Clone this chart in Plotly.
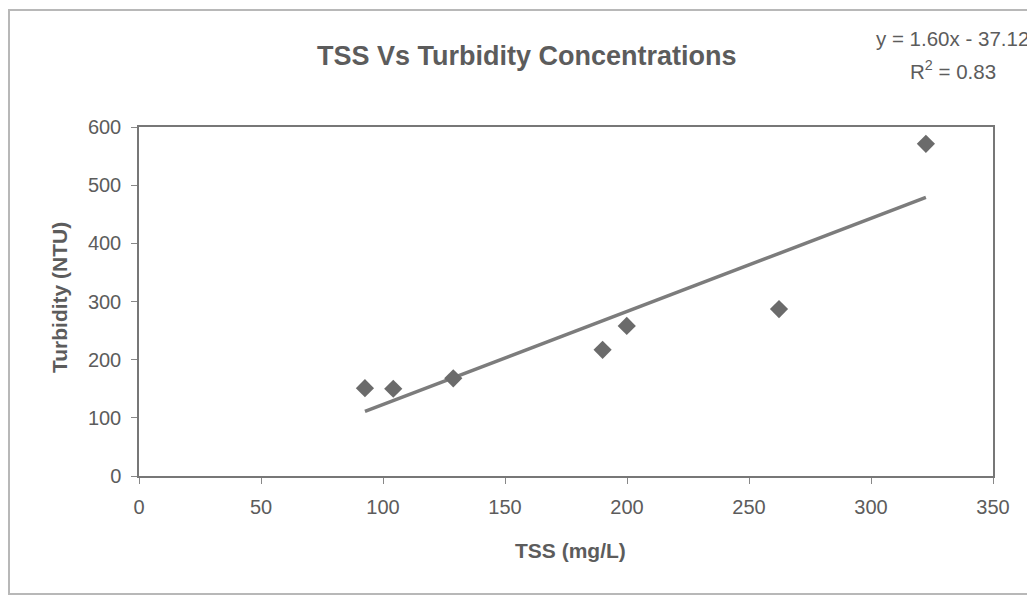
import plotly.graph_objects as go

tss = [92.6, 104.2, 128.8, 190.0, 199.9, 262.3, 322.5]
turbidity = [151, 150, 168, 217, 258, 287, 571]
slope = 1.60
intercept = -37.12
r2 = 0.83

x_ticks = [0, 50, 100, 150, 200, 250, 300, 350]
y_ticks = [0, 100, 200, 300, 400, 500, 600]

FONT = "Liberation Sans, Arial, sans-serif"
TXT = "#5c5c5c"

trend_x = [min(tss), max(tss)]
trend_y = [slope * v + intercept for v in trend_x]

fig = go.Figure()
fig.add_trace(go.Scatter(x=trend_x, y=trend_y, mode="lines",
                         line=dict(color="#7c7c7c", width=3.5), hoverinfo="skip"))
fig.add_trace(go.Scatter(x=tss, y=turbidity, mode="markers",
                         marker=dict(symbol="diamond", size=14, color="#6b6b6b",
                                     line=dict(width=0))))

# page body has an 8px margin: figure coordinates = screen - 8
OFF = 8
W, H = 1035, 597
L, T = 139 - OFF, 127 - OFF
R = W - (993 - OFF)
B = H - (476 - OFF)
pw, ph = W - L - R, H - T - B

def px(x):
    return (x - OFF - L) / pw

def py(y):
    return (H - B - (y - OFF)) / ph

fig.update_layout(
    width=W, height=H,
    margin=dict(l=L, r=R, t=T, b=B),
    paper_bgcolor="white", plot_bgcolor="white",
    showlegend=False,
    font=dict(family=FONT, color=TXT, size=20),
    xaxis=dict(range=[0, 350], tickvals=x_ticks, ticktext=[str(v) for v in x_ticks],
               showgrid=False, zeroline=False, showline=True, linecolor="#777777",
               linewidth=1.5, mirror=True, ticks="outside", ticklen=6,
               tickcolor="#888888", ticklabelstandoff=6),
    yaxis=dict(range=[0, 600], tickvals=y_ticks, ticktext=[str(v) for v in y_ticks],
               showgrid=False, zeroline=False, showline=True, linecolor="#777777",
               linewidth=1.5, mirror=True, ticks="outside", ticklen=6,
               tickcolor="#888888", ticklabelstandoff=6),
    shapes=[dict(type="rect", xref="paper", yref="paper",
                 x0=px(9), x1=px(1060), y0=py(594), y1=py(10),
                 line=dict(color="#b8b8b8", width=2), layer="below")],
    annotations=[
        dict(text="<b>TSS Vs Turbidity Concentrations</b>", xref="paper", yref="paper",
             x=px(527), y=py(56), showarrow=False, font=dict(size=27, color=TXT),
             xanchor="center", yanchor="middle"),
        dict(text=f"y = {slope:.2f}x - {abs(intercept):.2f}", xref="paper", yref="paper",
             x=px(952), y=py(38), showarrow=False, font=dict(size=20.5, color=TXT),
             xanchor="center", yanchor="middle"),
        dict(text=f"R<sup>2</sup> = {r2:.2f}", xref="paper", yref="paper",
             x=px(953), y=py(70), showarrow=False, font=dict(size=20.5, color=TXT),
             xanchor="center", yanchor="middle"),
        dict(text="<b>TSS (mg/L)</b>", xref="paper", yref="paper",
             x=px(570), y=py(550), showarrow=False, font=dict(size=21, color=TXT),
             xanchor="center", yanchor="middle"),
        dict(text="<b>Turbidity (NTU)</b>", xref="paper", yref="paper",
             x=px(59), y=py(298), showarrow=False, font=dict(size=21, color=TXT),
             xanchor="center", yanchor="middle", textangle=-90),
    ],
)

fig.write_html("out.html")
